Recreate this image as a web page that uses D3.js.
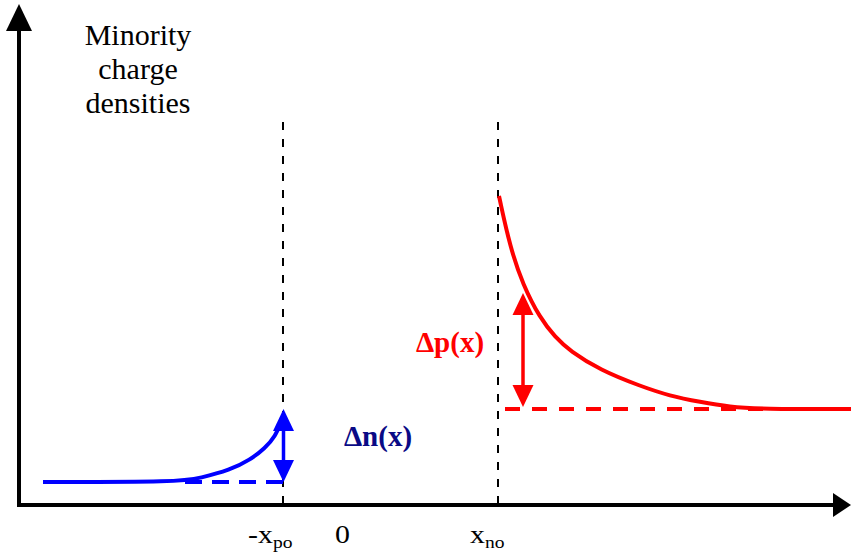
<!DOCTYPE html>
<html>
<head>
<meta charset="utf-8">
<script src="https://cdn.jsdelivr.net/npm/d3@7"></script>
<style>
  html, body { margin: 0; padding: 0; background: #fff; }
  svg { display: block; }
</style>
</head>
<body>
<div id="chart"></div>
<script>
// ---- Data (x in arbitrary position units, y in density units) ----
const xPo = -60;          // -x_po boundary
const xNo = 155;          // x_no boundary
const np0 = 22;           // equilibrium minority electrons (p side)
const pn0 = 95;           // equilibrium minority holes (n side)

const blueX = [-300, -163, -143, -113, -93, -78, -68, -60];
const blueY = [22, 22, 26, 34, 44, 56, 67, 86];

const redX = [156, 167, 180, 197, 212, 227, 257, 297, 327, 357, 387, 417, 508];
const redY = [308, 257, 219, 186, 167, 153, 134, 118, 108, 102, 97, 95, 95];

const blueDashX = [-158, xPo];
const redDashX = [162, 420];

const dnArrowX = -59.5;   // Δn(x) arrow position
const dnArrowY = [np0, 95];
const dpArrowX = 180;     // Δp(x) arrow position
const dpArrowY = [97, 211];

const boundaryTop = 382;

const tickLabels = [
  { x: xPo, main: "-x", sub: "po" },
  { x: 0, main: "0", sub: "" },
  { x: xNo, main: "x", sub: "no" }
];
const yTitle = ["Minority", "charge", "densities"];

// ---- Layout ----
const FONT = "'Liberation Serif', 'DejaVu Serif', 'Noto Serif', Tinos, serif";
const W = 851, H = 552;
const x = d3.scaleLinear().domain([-325, 508]).range([18, 851]);
const y = d3.scaleLinear().domain([0, 500]).range([504, 4]);

const svg = d3.select("#chart").append("svg")
  .attr("width", W).attr("height", H);

// boundary dashed lines
[xPo, xNo].forEach(b => {
  svg.append("line")
    .attr("x1", x(b)).attr("x2", x(b))
    .attr("y1", y(boundaryTop)).attr("y2", y(0))
    .attr("stroke", "#000").attr("stroke-width", 2)
    .attr("stroke-dasharray", "8,9");
});

const line = d3.line().x(d => x(d[0])).y(d => y(d[1])).curve(d3.curveBasis);

// equilibrium dashed lines
svg.append("line")
  .attr("x1", x(blueDashX[0])).attr("x2", x(blueDashX[1]))
  .attr("y1", y(np0)).attr("y2", y(np0))
  .attr("stroke", "#0000ff").attr("stroke-width", 4)
  .attr("stroke-dasharray", "17,10");
svg.append("line")
  .attr("x1", x(redDashX[0])).attr("x2", x(redDashX[1]))
  .attr("y1", y(pn0)).attr("y2", y(pn0))
  .attr("stroke", "#ff0000").attr("stroke-width", 4)
  .attr("stroke-dasharray", "15,12");

// curves
svg.append("path")
  .datum(blueX.map((v, i) => [v, blueY[i]]))
  .attr("d", line).attr("fill", "none")
  .attr("stroke", "#0000ff").attr("stroke-width", 4);
svg.append("path")
  .datum(redX.map((v, i) => [v, redY[i]]))
  .attr("d", line).attr("fill", "none")
  .attr("stroke", "#ff0000").attr("stroke-width", 4);

// double arrows
function doubleArrow(xv, yv, color) {
  const cx = x(xv), yb = y(yv[0]), yt = y(yv[1]);
  const hh = 22, hw = 10.5;
  svg.append("line").attr("x1", cx).attr("x2", cx)
    .attr("y1", yt + hh - 2).attr("y2", yb - hh + 2)
    .attr("stroke", color).attr("stroke-width", 3.5);
  svg.append("path")
    .attr("d", `M${cx},${yt} L${cx - hw},${yt + hh} L${cx + hw},${yt + hh} Z`)
    .attr("fill", color);
  svg.append("path")
    .attr("d", `M${cx},${yb} L${cx - hw},${yb - hh} L${cx + hw},${yb - hh} Z`)
    .attr("fill", color);
}
doubleArrow(dnArrowX, dnArrowY, "#0000ff");
doubleArrow(dpArrowX, dpArrowY, "#ff0000");

// labels Δn(x), Δp(x)
svg.append("text").attr("x", 378).attr("y", 446)
  .attr("font-family", FONT)
  .attr("text-anchor", "middle").attr("font-size", 29).attr("font-weight", "bold")
  .attr("fill", "#0a0a85").text("\u0394n(x)");
svg.append("text").attr("x", 450).attr("y", 352)
  .attr("font-family", FONT)
  .attr("text-anchor", "middle").attr("font-size", 29).attr("font-weight", "bold")
  .attr("fill", "#ff0000").text("\u0394p(x)");

// axes
const x0 = x.range()[0] + 1, y0 = y(0);
svg.append("line").attr("x1", x0).attr("x2", x0)
  .attr("y1", 28).attr("y2", y0 + 2)
  .attr("stroke", "#000").attr("stroke-width", 4);
svg.append("path")
  .attr("d", `M${x0},4 L${x0 - 13},31 L${x0 + 13},31 Z`).attr("fill", "#000");
svg.append("line").attr("x1", x0 - 2).attr("x2", 835)
  .attr("y1", y0 + 1).attr("y2", y0 + 1)
  .attr("stroke", "#000").attr("stroke-width", 4);
svg.append("path")
  .attr("d", `M851,${y0 + 1} L833,${y0 - 11} L833,${y0 + 13} Z`).attr("fill", "#000");

// y title
const yt = svg.append("text").attr("text-anchor", "middle")
  .attr("font-family", FONT)
  .attr("font-size", 30).attr("fill", "#000");
yTitle.forEach((t, i) => {
  yt.append("tspan").attr("x", 138).attr("y", 45 + i * 34).text(t);
});

// tick labels
tickLabels.forEach(t => {
  const txt = svg.append("text").attr("y", 543)
    .attr("font-family", FONT)
    .attr("font-size", 26).attr("fill", "#000");
  txt.append("tspan").text(t.main);
  if (t.sub) txt.append("tspan").attr("font-size", 17).attr("dy", 5).text(t.sub);
  const sx = 1.15;
  let left;
  if (t.main === "-x") left = 248;
  else if (t.main === "x") left = 470;
  else left = x(t.x) - 7 * sx;
  txt.attr("transform", `translate(${left},0) scale(${sx},1)`).attr("x", 0);
});
</script>
</body>
</html>
